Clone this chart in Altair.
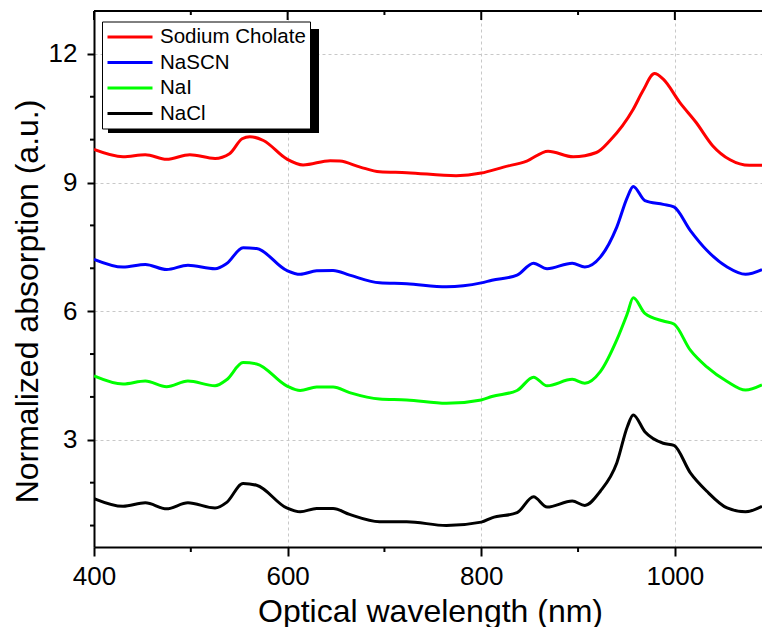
import altair as alt
import pandas as pd

# Series names and line colours (legend order)
series_names = ["Sodium Cholate", "NaSCN", "NaI", "NaCl"]
series_colors = ["#ff0000", "#0000ff", "#00ff00", "#000000"]

# Sodium cholate spectrum (offset on the y axis)
wl_cholate = [400, 430, 453, 475, 499, 525, 540, 553, 561, 575, 599, 616, 644, 654, 675,
              695, 723, 774, 800, 823, 847, 869, 895, 919, 933, 957, 967, 979, 988, 1005,
              1022, 1039, 1057, 1077, 1090]
abs_cholate = [9.77, 9.60, 9.65, 9.54, 9.65, 9.56, 9.67, 10.02, 10.07, 9.98, 9.55, 9.41, 9.51, 9.50, 9.36,
               9.25, 9.23, 9.16, 9.22, 9.36, 9.50, 9.73, 9.60, 9.70, 9.98, 10.71, 11.14, 11.54, 11.41, 10.87,
               10.40, 9.86, 9.53, 9.40, 9.40]

# Salt spectra share one wavelength grid
wl_salts = [400, 430, 453, 475, 497, 525, 537, 554, 568, 599, 613, 630, 647, 664, 695,
            723, 764, 800, 811, 837, 854, 868, 894, 907, 923, 940, 951, 957, 969, 988,
            999, 1016, 1033, 1054, 1073, 1090]
abs_nascn = [7.21, 7.03, 7.09, 6.97, 7.07, 6.99, 7.11, 7.48, 7.46, 6.95, 6.86, 6.94, 6.95, 6.84, 6.66,
             6.64, 6.57, 6.66, 6.72, 6.84, 7.12, 6.99, 7.12, 7.03, 7.26, 7.96, 8.66, 8.91, 8.58, 8.49,
             8.43, 7.88, 7.42, 7.03, 6.86, 6.97]
abs_nai = [4.49, 4.30, 4.37, 4.24, 4.37, 4.26, 4.40, 4.80, 4.77, 4.26, 4.15, 4.23, 4.23, 4.10, 3.95,
           3.93, 3.85, 3.93, 4.01, 4.15, 4.46, 4.26, 4.41, 4.32, 4.59, 5.33, 5.95, 6.31, 5.95, 5.77,
           5.70, 5.09, 4.70, 4.36, 4.16, 4.28]
abs_nacl = [1.63, 1.45, 1.53, 1.39, 1.53, 1.41, 1.54, 1.98, 1.94, 1.41, 1.32, 1.40, 1.40, 1.26, 1.09,
            1.09, 1.00, 1.08, 1.18, 1.30, 1.67, 1.43, 1.57, 1.47, 1.80, 2.46, 3.31, 3.58, 3.19, 2.92,
            2.87, 2.23, 1.80, 1.41, 1.32, 1.45]

# Tick positions
x_major = [400, 600, 800, 1000]
x_minor = [500, 700, 900]
y_major = [3, 6, 9, 12]
y_minor = [1, 2, 4, 5, 7, 8, 10, 11]

rows = []
for w, a in zip(wl_cholate, abs_cholate):
    rows.append({"wl": w, "absorb": a, "sample": "Sodium Cholate"})
for name, vals in [("NaSCN", abs_nascn), ("NaI", abs_nai), ("NaCl", abs_nacl)]:
    for w, a in zip(wl_salts, vals):
        rows.append({"wl": w, "absorb": a, "sample": name})
df = pd.DataFrame(rows)

W, H = 668, 536
FONT = "Liberation Sans"
xs = alt.Scale(domain=[400, 1090], nice=False, zero=False)
ys = alt.Scale(domain=[0.5, 13], nice=False, zero=False)

lines = alt.Chart(df).mark_line(strokeWidth=3, interpolate="monotone", clip=True).encode(
    x=alt.X("wl:Q", scale=xs, axis=alt.Axis(
        orient="bottom", values=x_major, format="d", domainColor="black", domainWidth=2,
        tickColor="black", tickWidth=2, tickSize=9, labelFontSize=26, labelFont=FONT,
        labelColor="black", labelPadding=7, labelFlush=False, labelOverlap=False,
        grid=True, gridDash=[3, 3], gridColor="#c8c8c8",
        gridWidth=1, title="Optical wavelength (nm)", titleFont=FONT, titleFontSize=32,
        titleFontWeight="normal", titleColor="black", titleBaseline="alphabetic",
        titleX=336, titleY=74)),
    y=alt.Y("absorb:Q", scale=ys, axis=alt.Axis(
        orient="left", values=y_major, format="d", domainColor="black", domainWidth=2,
        tickColor="black", tickWidth=2, tickSize=7, labelFontSize=26, labelFont=FONT,
        labelColor="black", labelPadding=10, labelFlush=False, labelOverlap=False,
        grid=True, gridDash=[3, 3], gridColor="#c8c8c8",
        gridWidth=1, title="Normalized absorption (a.u.)", titleFont=FONT, titleFontSize=32,
        titleFontWeight="normal", titleColor="black", titleAngle=270,
        titleBaseline="alphabetic", titleAlign="center", titleX=-57, titleY=290)),
    color=alt.Color("sample:N", scale=alt.Scale(domain=series_names, range=series_colors),
                    legend=alt.Legend(
                        title=None, orient="none", legendX=8, legendY=10.5,
                        symbolType="M-1,0H3.5", symbolSize=400, symbolStrokeWidth=3,
                        labelFontSize=20.5, labelFont=FONT, labelColor="black",
                        fillColor="white", strokeColor="black", padding=4,
                        rowPadding=3.5, labelOffset=31)),
)

one_row = pd.DataFrame({"k": [0]})

# top frame line with inward ticks
top_line = alt.Chart(one_row).mark_rule(color="black", strokeWidth=2).encode(
    x=alt.value(0), x2=alt.value(W), y=alt.value(0))
top_major = alt.Chart(pd.DataFrame({"v": x_major})).mark_rule(color="black", strokeWidth=2).encode(
    x=alt.X("v:Q", scale=xs, axis=None), y=alt.value(0), y2=alt.value(9))
top_minor = alt.Chart(pd.DataFrame({"v": x_minor})).mark_rule(color="black", strokeWidth=2).encode(
    x=alt.X("v:Q", scale=xs, axis=None), y=alt.value(0), y2=alt.value(4))

# outward minor ticks on the bottom and left axes
bottom_minor = alt.Chart(pd.DataFrame({"v": x_minor})).mark_rule(color="black", strokeWidth=2).encode(
    x=alt.X("v:Q", scale=xs, axis=None), y=alt.value(H), y2=alt.value(H + 5))
left_minor = alt.Chart(pd.DataFrame({"v": y_minor})).mark_rule(color="black", strokeWidth=2).encode(
    y=alt.Y("v:Q", scale=ys, axis=None), x=alt.value(-4), x2=alt.value(0))

# drop shadow behind the legend box
shadow = alt.Chart(one_row).mark_rect(color="black").encode(
    x=alt.value(14), x2=alt.value(225), y=alt.value(18), y2=alt.value(122),
)

chart = alt.layer(lines, top_line, top_major, top_minor, bottom_minor, left_minor, shadow).resolve_axis(
    x="independent", y="independent"
).properties(
    width=W, height=H,
    autosize=alt.AutoSizeParams(type="none"),
    padding={"left": 94, "top": 11, "right": 0, "bottom": 80},
).configure(font=FONT).configure_view(stroke=None)

chart.save("out.html", embed_options={"renderer": "svg", "actions": False})
